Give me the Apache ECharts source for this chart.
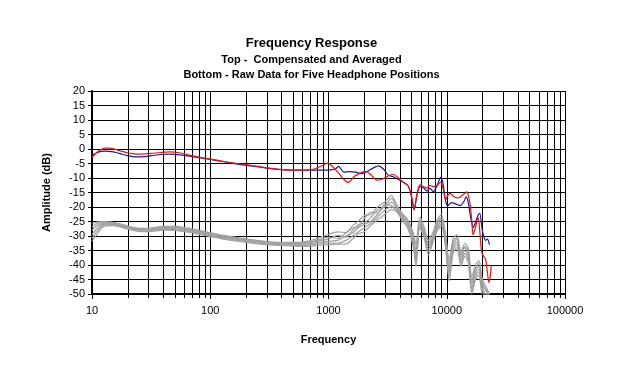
<!DOCTYPE html>
<html>
<head>
<meta charset="utf-8">
<script src="https://cdn.jsdelivr.net/npm/echarts@6/dist/echarts.min.js"></script>
<style>
html,body{margin:0;padding:0;background:#fff;}
#c{width:623px;height:389px;}
</style>
</head>
<body>
<div id="c"></div>
<script>
// ---- Data ----
const xTickLabels = [10, 100, 1000, 10000, 100000];
const yTicks = [-50, -45, -40, -35, -30, -25, -20, -15, -10, -5, 0, 5, 10, 15, 20];
const minorFreqs = [20,30,40,50,60,70,80,90,200,300,400,500,600,700,800,900,
  2000,3000,4000,5000,6000,7000,8000,9000,20000,30000,40000,50000,60000,70000,80000,90000];

// Compensated & averaged (blue)
const blueFreq = [10,11,12,13,14,16,18,20,22,25,28,32,38,45,55,65,80,100,130,170,220,300,400,550,700,900,
  1050,1150,1220,1280,1350,1500,1700,1900,2100,2400,2650,2900,3200,3500,3900,4300,4700,5000,5300,5600,5950,
  6400,6800,7200,7700,8300,8900,9300,9800,10200,11000,12000,13000,14000,14600,15200,16000,16800,17600,18300,
  19000,19800,20500,21300,22000,23000];
const blueVal = [-2.2,-1.3,-0.8,-0.7,-0.8,-1.2,-1.8,-2.3,-2.6,-2.7,-2.6,-2.3,-1.9,-1.8,-2.0,-2.4,-3.0,-3.6,-4.4,-5.2,-5.8,-6.6,-7.1,-7.3,-7.3,-7.3,
  -7.2,-6.8,-6.0,-7.0,-8.0,-7.8,-8.0,-8.5,-7.8,-6.5,-5.8,-6.8,-9.0,-9.5,-10.5,-11.5,-12.6,-16.0,-21.0,-16.0,-13.0,
  -13.5,-14.5,-13.5,-14.8,-12.5,-9.8,-12.0,-18.1,-19.5,-18.5,-19.0,-19.5,-18.0,-16.5,-18.5,-24.0,-27.0,-25.0,-23.0,
  -22.2,-27.0,-30.0,-31.5,-31.0,-33.0];

// Compensated & averaged (red)
const redFreq = [10,11,12,13,14,16,18,20,22,25,28,32,38,45,55,65,80,100,130,170,220,300,400,550,700,800,900,970,
  1050,1200,1350,1470,1650,1850,2090,2300,2550,2800,3100,3500,3900,4300,4700,5000,5300,5600,5950,6400,6800,7200,
  7700,8300,8900,9300,9800,10200,10700,11500,12500,13500,14200,14800,15400,15800,16300,16700,17500,18400,19000,
  19700,20500,21300,22000,22700,23300,23800];
const redVal = [-2.8,-1.2,-0.2,0.3,0.3,-0.2,-0.8,-1.3,-1.6,-1.8,-1.7,-1.5,-1.2,-1.0,-1.3,-2.0,-2.8,-3.5,-4.3,-5.0,-5.6,-6.5,-7.1,-7.3,-7.2,-6.5,-5.6,-4.9,
  -5.5,-8.0,-10.5,-11.5,-9.5,-8.3,-7.8,-9.0,-10.7,-10.5,-9.6,-8.7,-10.0,-11.5,-12.6,-15.5,-20.5,-15.5,-12.4,-13.0,-13.5,-12.5,
  -13.0,-12.5,-11.4,-13.5,-17.5,-16.0,-15.3,-16.5,-16.9,-16.0,-15.3,-14.8,-17.0,-19.3,-25.0,-29.6,-27.0,-23.5,-28.0,
  -35.4,-37.0,-38.0,-42.0,-46.0,-44.0,-40.0];

// Raw data, five headphone positions (grey)
const rawFreq = [10,11,12,13,15,18,22,26,32,40,50,65,90,130,200,300,450,600,800,1000,1200,1400,1600,1800,2000,2300,2600,3000,
  3400,3800,4200,4700,5200,5500,5900,6400,7000,7600,8300,9000,9700,10500,11300,12200,13200,14200,15200,16300,17500,18700,
  20000,21500,23000];
const raw1 = [-25.6,-25.2,-25.0,-25.0,-25.3,-26.0,-27.0,-27.4,-27.2,-26.7,-26.6,-27.3,-28.5,-29.8,-31.0,-31.9,-32.2,-32.1,-30.9,-29.4,-28.6,-28.8,-26.5,-24.8,-23.0,-22.5,-20.0,-18.2,
  -16.0,-19.5,-22.2,-24.5,-28.8,-33.0,-23.5,-26.5,-31.5,-29.0,-24.5,-22.5,-28.5,-38.0,-31.0,-29.5,-35.5,-32.5,-34.0,-44.0,-40.0,-38.5,
  -45.0,-47.5,-50];
const raw2 = [-26.8,-25.8,-25.4,-25.3,-25.6,-26.3,-27.3,-27.7,-27.5,-27.0,-27.0,-27.6,-28.7,-30.0,-31.3,-32.1,-32.5,-32.4,-31.5,-30.4,-30.8,-29.0,-27.3,-26.8,-24.0,-21.8,-22.0,-19.5,
  -17.0,-19.8,-22.8,-25.0,-29.5,-35.5,-24.5,-27.5,-32.5,-30.0,-25.5,-23.5,-29.5,-39.5,-32.0,-30.5,-36.5,-33.5,-35.0,-45.5,-41.0,-39.5,
  -46.0,-48.5,-50];
const raw3 = [-28.0,-26.5,-25.8,-25.6,-25.8,-26.5,-27.4,-27.8,-27.6,-27.2,-27.2,-27.8,-28.9,-30.2,-31.4,-32.2,-32.6,-32.6,-31.8,-31.0,-29.8,-30.4,-28.0,-26.0,-25.5,-23.5,-21.0,-20.0,
  -18.3,-20.3,-23.2,-25.6,-30.5,-36.5,-25.0,-28.2,-33.5,-30.5,-26.0,-24.2,-30.2,-41.0,-33.0,-31.0,-37.5,-34.0,-36.0,-46.5,-42.0,-40.5,
  -47.0,-49.0,-50];
const raw4 = [-29.5,-27.5,-26.3,-25.9,-26.0,-26.7,-27.6,-28.0,-27.8,-27.4,-27.5,-28.1,-29.2,-30.5,-31.6,-32.4,-32.8,-32.9,-32.3,-31.8,-31.5,-30.0,-29.0,-27.0,-26.0,-24.8,-22.5,-19.2,
  -19.5,-20.8,-23.6,-26.2,-31.5,-38.0,-25.8,-28.8,-34.5,-31.0,-26.8,-25.0,-31.0,-42.5,-34.0,-32.0,-38.5,-35.0,-37.0,-48.0,-43.0,-41.5,
  -48.0,-50,-50];
const raw5 = [-30.8,-28.5,-26.8,-26.2,-26.2,-26.9,-27.8,-28.3,-28.1,-27.7,-27.8,-28.4,-29.5,-30.8,-31.9,-32.7,-33.1,-33.3,-32.8,-32.4,-32.5,-31.5,-30.0,-28.5,-27.2,-25.5,-23.5,-21.0,
  -20.0,-21.3,-24.0,-26.8,-32.5,-39.5,-26.5,-29.5,-35.5,-31.8,-27.5,-25.8,-32.0,-44.0,-35.0,-33.0,-39.5,-36.0,-38.0,-49.5,-44.0,-42.5,
  -49.0,-50,-50];
const raw6 = [-31.8,-29.5,-27.3,-26.5,-26.4,-27.1,-28.0,-28.5,-28.4,-28.0,-28.1,-28.7,-29.8,-31.1,-32.2,-33.0,-33.4,-33.6,-33.3,-33.0,-32.8,-32.8,-31.0,-29.2,-28.5,-26.2,-24.5,-22.5,
  -20.8,-21.8,-24.5,-27.5,-33.5,-40.5,-27.2,-30.2,-36.5,-32.5,-28.2,-26.5,-33.0,-45.5,-36.0,-34.0,-40.5,-37.0,-39.0,-50,-45.0,-43.5,
  -50,-50,-50];
const rawSets = [raw1, raw2, raw3, raw4, raw5, raw6];

// ---- Chart ----
const FONT = '"Liberation Sans", Arial, sans-serif';
const pairs = (fs, vs) => fs.map((f, i) => [f, vs[i]]);

const series = [];
series.push({
  type: 'custom',
  silent: true,
  clip: false,
  z: 1,
  data: minorFreqs.map(f => [f, -50]),
  encode: { x: 0, y: 1 },
  renderItem: function (params, api) {
    const f = api.value(0);
    const t = api.coord([f, 20]);
    const b = api.coord([f, -50]);
    const x = Math.round(t[0]) + 0.5;
    return {
      type: 'group',
      children: [
        { type: 'line', shape: { x1: x, y1: t[1], x2: x, y2: b[1] }, style: { stroke: '#000', lineWidth: 1 } },
        { type: 'line', shape: { x1: x, y1: b[1], x2: x, y2: b[1] + 4 }, style: { stroke: '#000', lineWidth: 1 } }
      ]
    };
  }
});
rawSets.forEach(function (vals) {
  series.push({
    type: 'line', data: pairs(rawFreq, vals), showSymbol: false, smooth: 0.25, z: 3,
    lineStyle: { color: '#a0a0a0', width: 1.2 }, silent: true
  });
});
series.push({
  type: 'line', data: pairs(blueFreq, blueVal), showSymbol: false, smooth: 0.3, z: 4,
  lineStyle: { color: '#1a1a9a', width: 1.2 }, silent: true
});
series.push({
  type: 'line', data: pairs(redFreq, redVal), showSymbol: false, smooth: 0.3, z: 5,
  lineStyle: { color: '#ee1111', width: 1.2 }, silent: true
});

const chart = echarts.init(document.getElementById('c'), null, { renderer: 'canvas' });
chart.setOption({
  animation: false,
  backgroundColor: '#fff',
  textStyle: { fontFamily: FONT },
  title: [
    { text: 'Frequency Response', left: 'center', top: 32,
      textStyle: { fontFamily: FONT, fontSize: 13, fontWeight: 'bold', color: '#000' } },
    { text: 'Top -  Compensated and Averaged', left: 'center', top: 49,
      textStyle: { fontFamily: FONT, fontSize: 11, fontWeight: 'bold', color: '#000' } },
    { text: 'Bottom - Raw Data for Five Headphone Positions', left: 'center', top: 64,
      textStyle: { fontFamily: FONT, fontSize: 11, fontWeight: 'bold', color: '#000' } }
  ],
  grid: { left: 92, right: 58, top: 91, bottom: 95, containLabel: false },
  xAxis: {
    type: 'log', logBase: 10, min: xTickLabels[0], max: xTickLabels[xTickLabels.length - 1],
    name: 'Frequency', nameLocation: 'middle', nameGap: 40,
    nameTextStyle: { fontFamily: FONT, fontSize: 11, fontWeight: 'bold', color: '#000' },
    axisLine: { onZero: false, lineStyle: { color: '#000', width: 2 } },
    axisTick: { show: true, length: 5, lineStyle: { color: '#000', width: 1 } },
    axisLabel: { margin: 11, fontSize: 11, color: '#000', fontFamily: FONT,
      formatter: function (v) { return String(v); } },
    splitLine: { show: true, lineStyle: { color: '#000', width: 1 } }
  },
  yAxis: {
    type: 'value', min: yTicks[0], max: yTicks[yTicks.length - 1], interval: 5,
    name: 'Amplitude (dB)', nameLocation: 'middle', nameGap: 40, nameRotate: 90,
    nameTextStyle: { fontFamily: FONT, fontSize: 11, fontWeight: 'bold', color: '#000' },
    axisLine: { onZero: false, lineStyle: { color: '#000', width: 2 } },
    axisTick: { show: true, length: 4, lineStyle: { color: '#000', width: 1 } },
    axisLabel: { margin: 7, fontSize: 11, color: '#000', fontFamily: FONT },
    splitLine: { show: true, lineStyle: { color: '#000', width: 1 } }
  },
  series: series
});
</script>
</body>
</html>
